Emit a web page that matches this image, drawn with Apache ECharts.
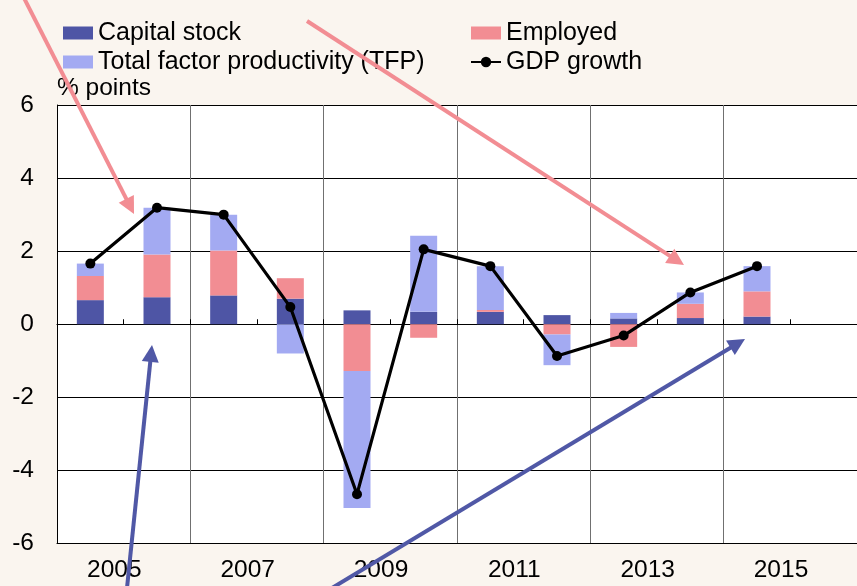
<!DOCTYPE html>
<html>
<head>
<meta charset="utf-8">
<script src="https://cdn.jsdelivr.net/npm/echarts@6/dist/echarts.min.js"></script>
<style>
html,body{margin:0;padding:0;background:#FAF5EF;}
#c{width:857px;height:586px;}
</style>
</head>
<body>
<div id="c"></div>
<script>
const years = ['2005','2006','2007','2008','2009','2010','2011','2012','2013','2014','2015','2016'];
const capitalStock = [0.66, 0.74, 0.79, 0.70, 0.38, 0.34, 0.34, 0.25, 0.16, 0.17, 0.21];
const employed     = [0.66, 1.17, 1.23, 0.56, -1.28, -0.37, 0.05, -0.28, -0.62, 0.39, 0.69];
const tfp          = [0.34, 1.28, 0.98, -0.80, -3.75, 2.08, 1.20, -0.84, 0.15, 0.31, 0.69];
const gdpGrowth    = [1.66, 3.19, 3.00, 0.47, -4.65, 2.05, 1.59, -0.87, -0.31, 0.87, 1.59];
const yTicks = [-6, -4, -2, 0, 2, 4, 6];

const FONT = 'Liberation Sans, Arial, sans-serif';
const FS = 24.5;
const FSL = 25;
const C_CAP = '#4E55A5', C_EMP = '#F28D93', C_TFP = '#A3AAF2';

const chart = echarts.init(document.getElementById('c'));
chart.setOption({
  backgroundColor: '#FAF5EF',
  animation: false,
  textStyle: {fontFamily: FONT},
  grid: {left: 57, top: 105, right: 0, bottom: 42.5, show: true, backgroundColor: '#ffffff', borderWidth: 0},
  legend: [
    {left: 63, top: 20, padding: 0, orient: 'vertical', itemWidth: 30, itemHeight: 13, itemGap: 3,
     textStyle: {fontSize: FSL, color: '#000', fontFamily: FONT, lineHeight: 26},
     data: [{name: 'Capital stock', icon: 'rect'}, {name: 'Total factor productivity (TFP)', icon: 'rect'}]},
    {left: 470, top: 20, padding: 0, orient: 'vertical', itemWidth: 30, itemHeight: 13, itemGap: 3,
     textStyle: {fontSize: FSL, color: '#000', fontFamily: FONT, lineHeight: 26},
     data: [{name: 'Employed', icon: 'rect'}, {name: 'GDP growth'}]}
  ],
  xAxis: [
    {type: 'category', data: years, boundaryGap: true, position: 'bottom',
     axisLine: {onZero: false, lineStyle: {color: '#000', width: 1}},
     axisTick: {show: false},
     axisLabel: {interval: 1, fontSize: FS, color: '#000', fontFamily: FONT, margin: 14, padding: [0, 0, 0, 48]},
     splitLine: {show: true, interval: 1, lineStyle: {color: '#707070', width: 1}}},
    {type: 'category', data: years, boundaryGap: true, position: 'bottom',
     axisLine: {onZero: true, lineStyle: {color: '#000', width: 1.2}},
     axisTick: {show: true, inside: true, length: 5, interval: 0, lineStyle: {color: '#000'}},
     axisLabel: {show: false}, splitLine: {show: false}}
  ],
  yAxis: {
    type: 'value', min: yTicks[0], max: yTicks[yTicks.length - 1], interval: 2,
    name: '% points', nameLocation: 'end', nameGap: 17,
    nameTextStyle: {fontSize: FS, color: '#000', fontFamily: FONT, align: 'left', verticalAlign: 'middle'},
    axisLine: {show: true, lineStyle: {color: '#000'}},
    axisTick: {show: false},
    axisLabel: {fontSize: FS, color: '#000', fontFamily: FONT, margin: 23},
    splitLine: {show: true, lineStyle: {color: '#000', width: 1}}
  },
  series: [
    {name: 'Capital stock', type: 'bar', stack: 'g', data: capitalStock, barWidth: 27, itemStyle: {color: C_CAP}},
    {name: 'Employed', type: 'bar', stack: 'g', data: employed, barWidth: 27, itemStyle: {color: C_EMP}},
    {name: 'Total factor productivity (TFP)', type: 'bar', stack: 'g', data: tfp, barWidth: 27, itemStyle: {color: C_TFP}},
    {name: 'GDP growth', type: 'line', data: gdpGrowth, z: 10, symbol: 'circle', symbolSize: 10,
     lineStyle: {color: '#000', width: 3.2}, itemStyle: {color: '#000'}}
  ]
});

// annotation arrows (decorative, pixel positions)
const arrows = [
  {from: [24, -2], to: [134, 214], color: '#F28D93'},
  {from: [307, 21], to: [684, 265], color: '#F28D93'},
  {from: [127, 588], to: [152, 345], color: '#5058A6'},
  {from: [332, 588], to: [745, 339], color: '#5058A6'}
];
const g = [];
arrows.forEach(a => {
  const dx = a.to[0] - a.from[0], dy = a.to[1] - a.from[1];
  const L = Math.sqrt(dx*dx + dy*dy), ux = dx / L, uy = dy / L;
  const hl = 17, hw = 8.5;
  const bx = a.to[0] - ux*hl, by = a.to[1] - uy*hl;
  g.push({type: 'line', z: 100, shape: {x1: a.from[0], y1: a.from[1], x2: bx + ux*2, y2: by + uy*2},
          style: {stroke: a.color, lineWidth: 4}});
  g.push({type: 'polygon', z: 100, shape: {points: [a.to, [bx - uy*hw, by + ux*hw], [bx + uy*hw, by - ux*hw]]},
          style: {fill: a.color}});
});
chart.setOption({graphic: g});
</script>
</body>
</html>
